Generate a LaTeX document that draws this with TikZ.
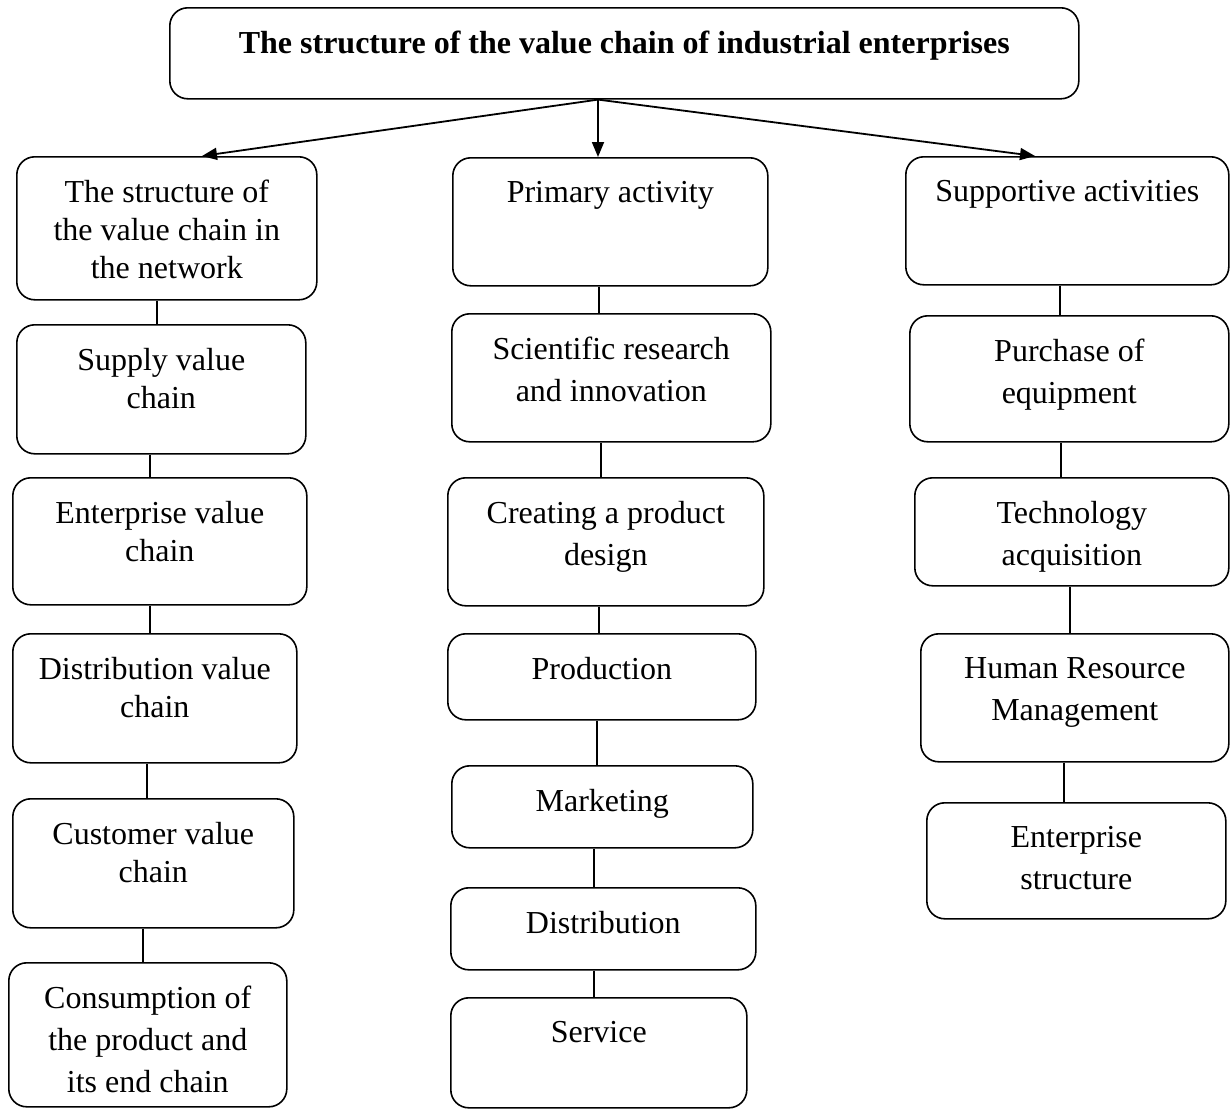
\documentclass[tikz,border=0pt]{standalone}
\usepackage{fontspec}
\setmainfont{Liberation Serif}
\usetikzlibrary{positioning,arrows.meta}

\begin{document}
\begin{tikzpicture}[
	x=1pt, y=-1pt,
	box/.style={
		draw, rectangle, rounded corners=18pt,
		line width=1.6pt, anchor=north west,
		inner sep=0pt
	},
	txt/.style={
		align=center, inner sep=0pt,
		font=\fontsize{32}{42}\selectfont
	},
	narrow/.style={font=\fontsize{32}{38}\selectfont},
	link/.style={line width=1.4pt},
	arr/.style={line width=1.8pt, -{Triangle[length=15pt,width=12pt]}}
	]
	\useasboundingbox (0,0) rectangle (1230,1109);
	% title
	\node[box, minimum width=909pt, minimum height=91pt] (T) at (169,7) {};
	\node[txt, font=\bfseries\fontsize{32}{42}\selectfont, below=24pt of T.north] (Tt) {The structure of the value chain of industrial enterprises};
	% left column
	\node[box, minimum width=300pt, minimum height=143pt] (L1) at (16,156) {};
	\node[box, minimum width=289pt, minimum height=129pt] (L2) at (16,324) {};
	\node[box, minimum width=294pt, minimum height=127pt] (L3) at (12,477) {};
	\node[box, minimum width=284pt, minimum height=129pt] (L4) at (12,633) {};
	\node[box, minimum width=281pt, minimum height=129pt] (L5) at (12,798) {};
	\node[box, minimum width=278pt, minimum height=144pt] (L6) at (8,962) {};
	\node[txt, narrow, below=24pt of L1.north] (L1t) {The structure of\\the value chain in\\the network};
	\node[txt, narrow, below=24pt of L2.north] (L2t) {Supply value\\chain};
	\node[txt, narrow, below=24pt of L3.north] (L3t) {Enterprise value\\chain};
	\node[txt, narrow, below=24pt of L4.north] (L4t) {Distribution value\\chain};
	\node[txt, narrow, below=24pt of L5.north] (L5t) {Customer value\\chain};
	\node[txt, below=24pt of L6.north] (L6t) {Consumption of\\the product and\\its end chain};
	% middle column
	\node[box, minimum width=315pt, minimum height=128pt] (C1) at (452,157) {};
	\node[box, minimum width=319pt, minimum height=128pt] (C2) at (451,313) {};
	\node[box, minimum width=316pt, minimum height=128pt] (C3) at (447,477) {};
	\node[box, minimum width=308pt, minimum height=86pt] (C4) at (447,633) {};
	\node[box, minimum width=301pt, minimum height=82pt] (C5) at (451,765) {};
	\node[box, minimum width=305pt, minimum height=82pt] (C6) at (450,887) {};
	\node[box, minimum width=296pt, minimum height=110pt] (C7) at (450,997) {};
	\node[txt, below=24pt of C1.north] (C1t) {Primary activity};
	\node[txt, below=24pt of C2.north] (C2t) {Scientific research\\and innovation};
	\node[txt, below=24pt of C3.north] (C3t) {Creating a product\\design};
	\node[txt, below=24pt of C4.north] (C4t) {Production};
	\node[txt, below=24pt of C5.north] (C5t) {Marketing};
	\node[txt, below=24pt of C6.north] (C6t) {Distribution};
	\node[txt, below=24pt of C7.north] (C7t) {Service};
	% right column
	\node[box, minimum width=323pt, minimum height=128pt] (R1) at (905,156) {};
	\node[box, minimum width=319pt, minimum height=126pt] (R2) at (909,315) {};
	\node[box, minimum width=314pt, minimum height=108pt] (R3) at (914,477) {};
	\node[box, minimum width=308pt, minimum height=128pt] (R4) at (920,633) {};
	\node[box, minimum width=299pt, minimum height=116pt] (R5) at (926,802) {};
	\node[txt, below=24pt of R1.north] (R1t) {Supportive activities};
	\node[txt, below=24pt of R2.north] (R2t) {Purchase of\\equipment};
	\node[txt, below=24pt of R3.north] (R3t) {Technology\\acquisition};
	\node[txt, below=24pt of R4.north] (R4t) {Human Resource\\Management};
	\node[txt, below=24pt of R5.north] (R5t) {Enterprise\\structure};
	% arrows from the title
	\coordinate (fork) at (T.south -| 598,0);
	\draw[arr] (fork) -- (L1.north -| 202,0);
	\draw[arr] (fork) -- (C1.north -| fork);
	\draw[arr] (fork) -- (R1.north -| 1035,0);
	% links inside the columns
	\foreach \a/\b/\x in {L1/L2/157, L2/L3/150, L3/L4/150, L4/L5/147, L5/L6/143,
		C1/C2/599, C2/C3/601, C3/C4/599, C4/C5/597, C5/C6/594, C6/C7/594,
		R1/R2/1060, R2/R3/1061, R3/R4/1070, R4/R5/1064}
	{
		\draw[link] (\a.south -| \x,0) -- (\b.north -| \x,0);
	}
\end{tikzpicture}
\end{document}
